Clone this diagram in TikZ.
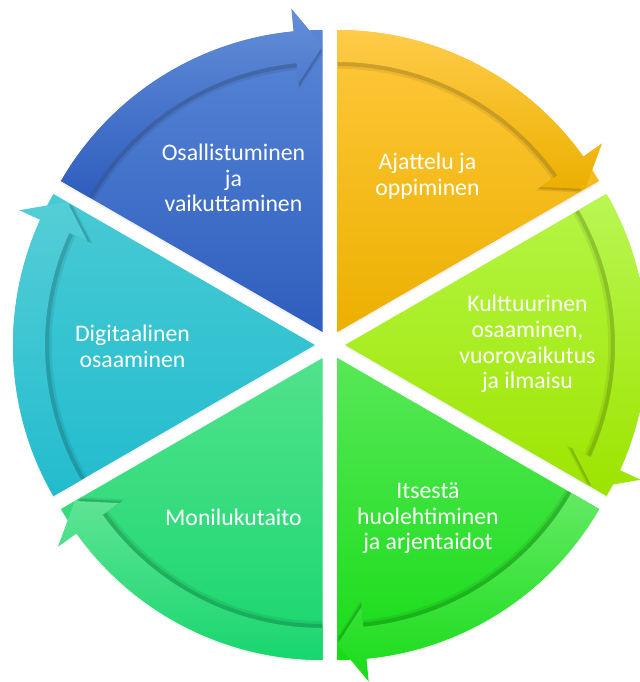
\documentclass[tikz,border=0pt]{standalone}
\usepackage{fontspec}
\setmainfont{Carlito}
\usepackage{tikz}
\usetikzlibrary{shapes, arrows, positioning, calc, shadows}

\definecolor{osaTop}{RGB}{88,134,214}
\definecolor{osaBot}{RGB}{46,94,190}
\definecolor{ajaTop}{RGB}{255,200,60}
\definecolor{ajaBot}{RGB}{236,176,0}
\definecolor{kulTop}{RGB}{180,246,70}
\definecolor{kulBot}{RGB}{158,228,0}
\definecolor{itsTop}{RGB}{88,232,88}
\definecolor{itsBot}{RGB}{24,220,24}
\definecolor{monTop}{RGB}{82,226,140}
\definecolor{monBot}{RGB}{24,214,110}
\definecolor{digTop}{RGB}{72,202,212}
\definecolor{digBot}{RGB}{34,188,206}

% curved arrow band of the wedge that starts at angle \a
\newcommand{\bandpath}{(\a:302) arc[start angle=\a, end angle=\a-54.5, radius=302]
	-- (\a-54.5:325) -- (\a-60:286) -- (\a-54.5:250) -- (\a-54.5:270)
	arc[start angle=\a-54.5, end angle=\a, radius=270] -- cycle}

\tikzset{
	wedge/.style={drop shadow={opacity=0.12, shadow xshift=0pt, shadow yshift=-1.5pt}},
	inshadow/.style={fill=black, opacity=0.13},
	lbl/.style={text=white, align=center, font=\fontsize{16.9}{18.2}\selectfont}
}

\begin{document}
\begin{tikzpicture}[x=0.025cm, y=0.025cm]
	\useasboundingbox (-330,-337) rectangle (309,345);
	\foreach \a/\col in {150/osa, 90/aja, 30/kul, -30/its, -90/mon, 210/dig}
	{
		\begin{scope}[shift={(\a-30:15)}]
			\shade[wedge, top color=\col Top, bottom color=\col Bot]
				(0,0) -- (\a:302) arc[start angle=\a, end angle=\a-60, radius=302] -- cycle;
			\fill[inshadow, scale=0.985] \bandpath;
			\fill[inshadow, opacity=0.07, scale=0.975] \bandpath;
			\shade[top color=\col Top!93!white, bottom color=\col Bot] \bandpath;
		\end{scope}
	}
	\node[lbl] (osallistuminen) at (120:193) {Osallistuminen\\ja\\vaikuttaminen};
	\node[lbl] (ajattelu) at (60:195) {Ajattelu ja\\oppiminen};
	\node[lbl] (kulttuurinen) at (197.5,1) {Kulttuurinen\\osaaminen,\\vuorovaikutus\\ja ilmaisu};
	\node[lbl] (itsesta) at (-60.5:199) {Itsestä\\huolehtiminen\\ja arjentaidot};
	\node[lbl] (monilukutaito) at (240.8:198) {Monilukutaito};
	\node[lbl] (digitaalinen) at (-197.5,-1.5) {Digitaalinen\\osaaminen};
\end{tikzpicture}
\end{document}
